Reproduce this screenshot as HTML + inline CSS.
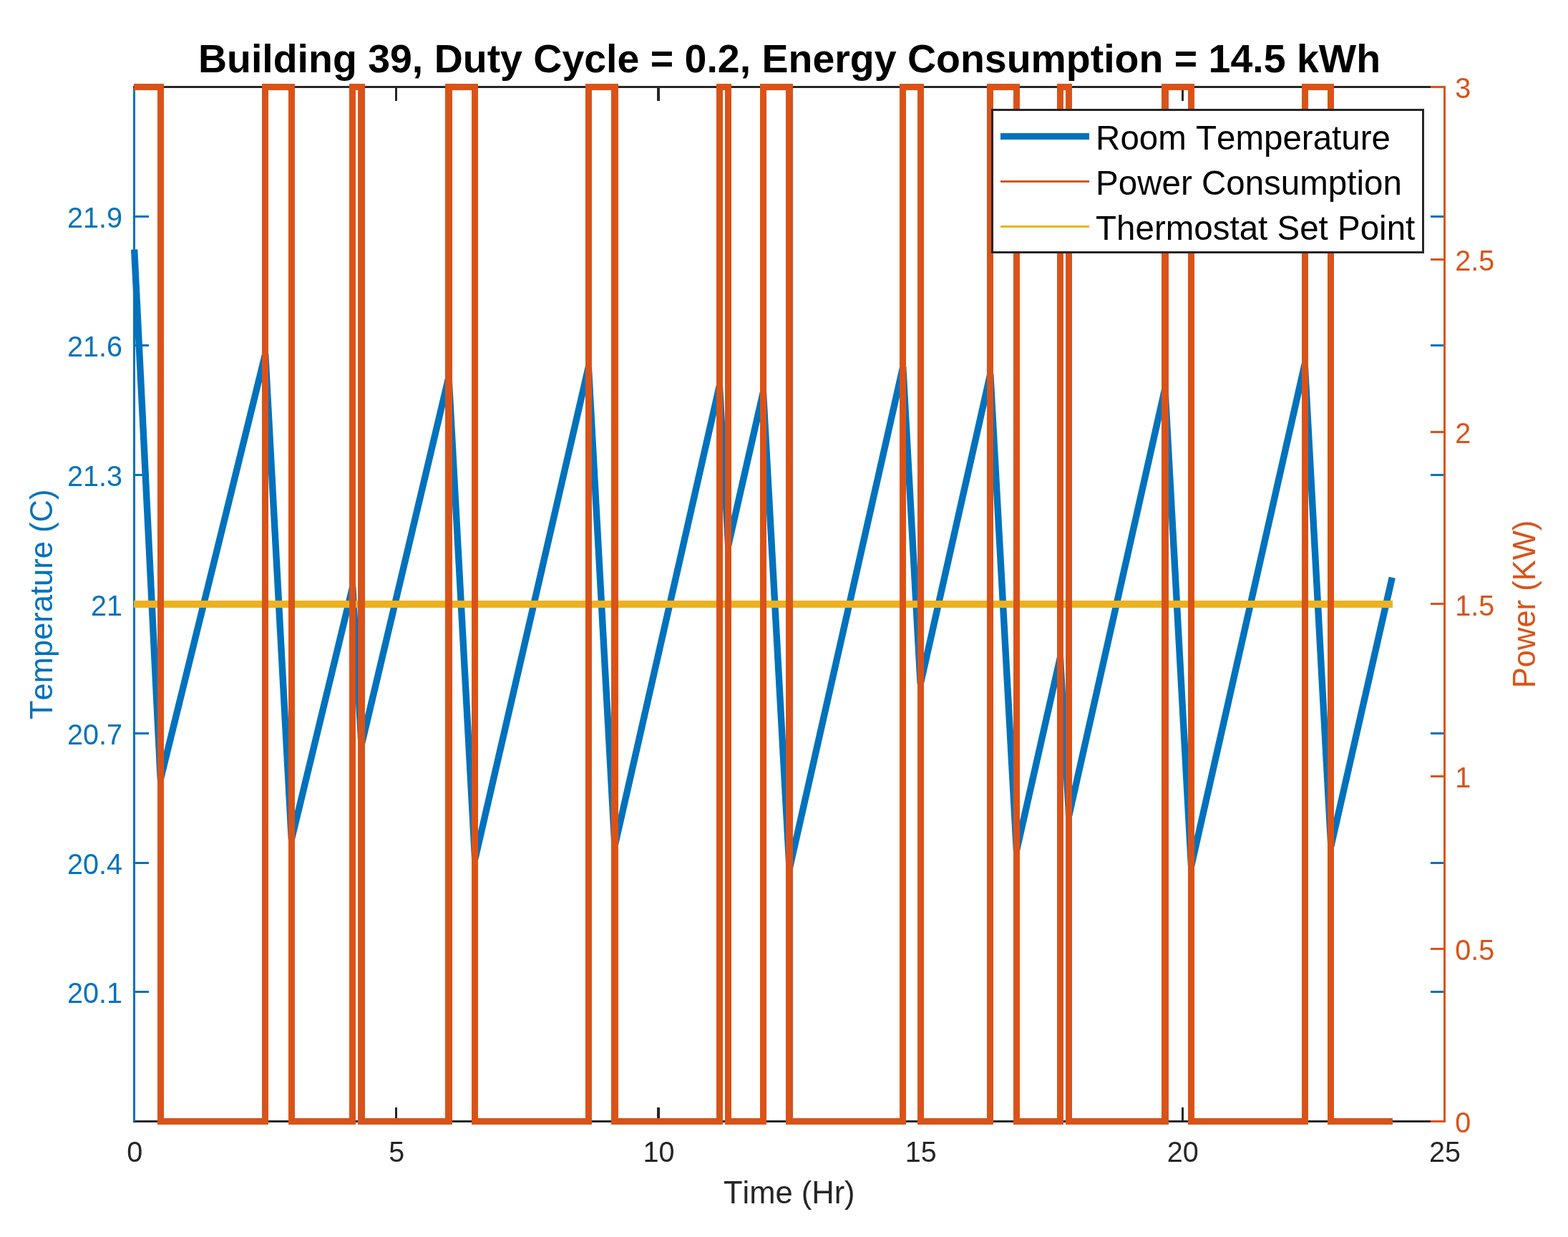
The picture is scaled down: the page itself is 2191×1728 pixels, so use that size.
<!DOCTYPE html>
<html lang="en"><head><meta charset="utf-8"><title>Building 39 duty cycle</title>
<style>html,body{margin:0;padding:0;background:#fff}body{width:2191px;height:1728px;overflow:hidden}svg{display:block}text{font-family:"Liberation Sans",sans-serif;font-kerning:none}</style></head><body>
<svg width="2191" height="1728" viewBox="0 0 2191 1728">
<rect x="0" y="0" width="2191" height="1728" fill="#fff"/>
<g shape-rendering="crispEdges"><rect x="186" y="1565" width="1834" height="3" fill="#262626"/><rect x="186" y="120" width="1834" height="3" fill="#262626"/><rect x="186" y="1547" width="3" height="21" fill="#262626"/><rect x="186" y="120" width="3" height="21" fill="#262626"/><rect x="552" y="1547" width="3" height="21" fill="#262626"/><rect x="552" y="120" width="3" height="21" fill="#262626"/><rect x="918" y="1547" width="4" height="21" fill="#262626"/><rect x="918" y="120" width="4" height="21" fill="#262626"/><rect x="1285" y="1547" width="3" height="21" fill="#262626"/><rect x="1285" y="120" width="3" height="21" fill="#262626"/><rect x="1651" y="1547" width="3" height="21" fill="#262626"/><rect x="1651" y="120" width="3" height="21" fill="#262626"/><rect x="2017" y="1547" width="3" height="21" fill="#262626"/><rect x="2017" y="120" width="3" height="21" fill="#262626"/><rect x="186" y="123" width="3" height="1444" fill="#0072BD"/><rect x="2017" y="120" width="3" height="1448" fill="#0072BD"/><rect x="186" y="1384" width="22" height="3" fill="#0072BD"/><rect x="1999" y="1384" width="21" height="3" fill="#0072BD"/><rect x="186" y="1204" width="22" height="3" fill="#0072BD"/><rect x="1999" y="1204" width="21" height="3" fill="#0072BD"/><rect x="186" y="1023" width="22" height="3" fill="#0072BD"/><rect x="1999" y="1023" width="21" height="3" fill="#0072BD"/><rect x="186" y="842" width="22" height="3" fill="#0072BD"/><rect x="1999" y="842" width="21" height="3" fill="#0072BD"/><rect x="186" y="662" width="22" height="3" fill="#0072BD"/><rect x="1999" y="662" width="21" height="3" fill="#0072BD"/><rect x="186" y="481" width="22" height="3" fill="#0072BD"/><rect x="1999" y="481" width="21" height="3" fill="#0072BD"/><rect x="186" y="301" width="22" height="3" fill="#0072BD"/><rect x="1999" y="301" width="21" height="3" fill="#0072BD"/></g>
<polyline points="187.66,348.50 224.28,1088.50 370.74,494.50 407.36,1172.50 492.80,819.50 505.01,1041.00 627.06,526.50 663.68,1200.50 822.35,512.50 858.97,1182.00 1005.44,538.50 1017.64,762.00 1066.47,547.50 1103.08,1214.00 1261.76,512.50 1286.17,955.50 1383.81,522.50 1420.43,1188.50 1481.46,918.50 1493.66,1139.50 1627.92,542.50 1664.54,1210.00 1823.21,508.50 1859.83,1182.00 1945.27,806.80" fill="none" stroke="#0072BD" stroke-width="9.4" stroke-linejoin="bevel" stroke-linecap="butt"/>
<g shape-rendering="crispEdges"><rect x="187" y="839" width="1759" height="10" fill="#EDB120"/><rect x="2017" y="120" width="3" height="1448" fill="#D95319"/><rect x="1999" y="1565" width="21" height="3" fill="#D95319"/><rect x="1999" y="1324" width="21" height="3" fill="#D95319"/><rect x="1999" y="1083" width="21" height="3" fill="#D95319"/><rect x="1999" y="842" width="21" height="3" fill="#D95319"/><rect x="1999" y="602" width="21" height="3" fill="#D95319"/><rect x="1999" y="361" width="21" height="3" fill="#D95319"/><rect x="1999" y="120" width="21" height="3" fill="#D95319"/><rect x="187" y="117" width="42" height="9" fill="#D95319"/><rect x="220" y="117" width="9" height="1454" fill="#D95319"/><rect x="220" y="1562" width="155" height="9" fill="#D95319"/><rect x="366" y="117" width="9" height="1454" fill="#D95319"/><rect x="366" y="117" width="46" height="9" fill="#D95319"/><rect x="403" y="117" width="9" height="1454" fill="#D95319"/><rect x="403" y="1562" width="94" height="9" fill="#D95319"/><rect x="488" y="117" width="9" height="1454" fill="#D95319"/><rect x="488" y="117" width="22" height="9" fill="#D95319"/><rect x="500" y="117" width="10" height="1454" fill="#D95319"/><rect x="500" y="1562" width="132" height="9" fill="#D95319"/><rect x="622" y="117" width="10" height="1454" fill="#D95319"/><rect x="622" y="117" width="46" height="9" fill="#D95319"/><rect x="659" y="117" width="9" height="1454" fill="#D95319"/><rect x="659" y="1562" width="168" height="9" fill="#D95319"/><rect x="818" y="117" width="9" height="1454" fill="#D95319"/><rect x="818" y="117" width="46" height="9" fill="#D95319"/><rect x="854" y="117" width="10" height="1454" fill="#D95319"/><rect x="854" y="1562" width="156" height="9" fill="#D95319"/><rect x="1001" y="117" width="9" height="1454" fill="#D95319"/><rect x="1001" y="117" width="21" height="9" fill="#D95319"/><rect x="1013" y="117" width="9" height="1454" fill="#D95319"/><rect x="1013" y="1562" width="58" height="9" fill="#D95319"/><rect x="1062" y="117" width="9" height="1454" fill="#D95319"/><rect x="1062" y="117" width="46" height="9" fill="#D95319"/><rect x="1098" y="117" width="10" height="1454" fill="#D95319"/><rect x="1098" y="1562" width="168" height="9" fill="#D95319"/><rect x="1257" y="117" width="9" height="1454" fill="#D95319"/><rect x="1257" y="117" width="34" height="9" fill="#D95319"/><rect x="1282" y="117" width="9" height="1454" fill="#D95319"/><rect x="1282" y="1562" width="106" height="9" fill="#D95319"/><rect x="1379" y="117" width="9" height="1454" fill="#D95319"/><rect x="1379" y="117" width="46" height="9" fill="#D95319"/><rect x="1416" y="117" width="9" height="1454" fill="#D95319"/><rect x="1416" y="1562" width="70" height="9" fill="#D95319"/><rect x="1477" y="117" width="9" height="1454" fill="#D95319"/><rect x="1477" y="117" width="21" height="9" fill="#D95319"/><rect x="1489" y="117" width="9" height="1454" fill="#D95319"/><rect x="1489" y="1562" width="144" height="9" fill="#D95319"/><rect x="1623" y="117" width="10" height="1454" fill="#D95319"/><rect x="1623" y="117" width="46" height="9" fill="#D95319"/><rect x="1660" y="117" width="9" height="1454" fill="#D95319"/><rect x="1660" y="1562" width="168" height="9" fill="#D95319"/><rect x="1819" y="117" width="9" height="1454" fill="#D95319"/><rect x="1819" y="117" width="45" height="9" fill="#D95319"/><rect x="1855" y="117" width="9" height="1454" fill="#D95319"/><rect x="1855" y="1562" width="91" height="9" fill="#D95319"/></g>
<g shape-rendering="crispEdges"><rect x="1386.5" y="153.5" width="602" height="199" fill="#fff" stroke="#262626" stroke-width="3"/><rect x="1398" y="186" width="124" height="9" fill="#0072BD"/><rect x="1398" y="252" width="124" height="3" fill="#D95319"/><rect x="1398" y="315" width="124" height="3" fill="#EDB120"/></g>
<g font-size="47.5" fill="#000"><text x="1531.1" y="209.1">Room Temperature</text><text x="1531.1" y="272">Power Consumption</text><text x="1531.1" y="335">Thermostat Set Point</text></g>
<text x="1103" y="100.9" font-size="55.47" font-weight="bold" text-anchor="middle" fill="#000">Building 39, Duty Cycle = 0.2, Energy Consumption = 14.5 kWh</text>
<g font-size="39.6" text-anchor="middle" fill="#262626"><text transform="translate(188.16,1623.4) scale(1,1.035)">0</text><text transform="translate(554.33,1623.4) scale(1,1.035)">5</text><text transform="translate(920.50,1623.4) scale(1,1.035)">10</text><text transform="translate(1286.67,1623.4) scale(1,1.035)">15</text><text transform="translate(1652.84,1623.4) scale(1,1.035)">20</text><text transform="translate(2019.01,1623.4) scale(1,1.035)">25</text></g>
<text x="1102.8" y="1681.3" font-size="43.5" text-anchor="middle" fill="#262626">Time (Hr)</text>
<g font-size="39.6" text-anchor="end" fill="#0072BD"><text transform="translate(171,1401.42) scale(1,1.035)">20.1</text><text transform="translate(171,1220.80) scale(1,1.035)">20.4</text><text transform="translate(171,1040.17) scale(1,1.035)">20.7</text><text transform="translate(171,859.55) scale(1,1.035)">21</text><text transform="translate(171,678.92) scale(1,1.035)">21.3</text><text transform="translate(171,498.30) scale(1,1.035)">21.6</text><text transform="translate(171,317.67) scale(1,1.035)">21.9</text></g>
<g font-size="39.6" text-anchor="start" fill="#D95319"><text transform="translate(2033.2,1582.05) scale(1,1.035)">0</text><text transform="translate(2033.2,1341.22) scale(1,1.035)">0.5</text><text transform="translate(2033.2,1100.38) scale(1,1.035)">1</text><text transform="translate(2033.2,859.55) scale(1,1.035)">1.5</text><text transform="translate(2033.2,618.72) scale(1,1.035)">2</text><text transform="translate(2033.2,377.88) scale(1,1.035)">2.5</text><text transform="translate(2033.2,137.05) scale(1,1.035)">3</text></g>
<text transform="translate(73.3,844.3) rotate(-90)" font-size="43.5" text-anchor="middle" fill="#0072BD">Temperature (C)</text>
<text transform="translate(2144.9,844) rotate(-90)" font-size="43.5" text-anchor="middle" fill="#D95319">Power (KW)</text>
</svg></body></html>
